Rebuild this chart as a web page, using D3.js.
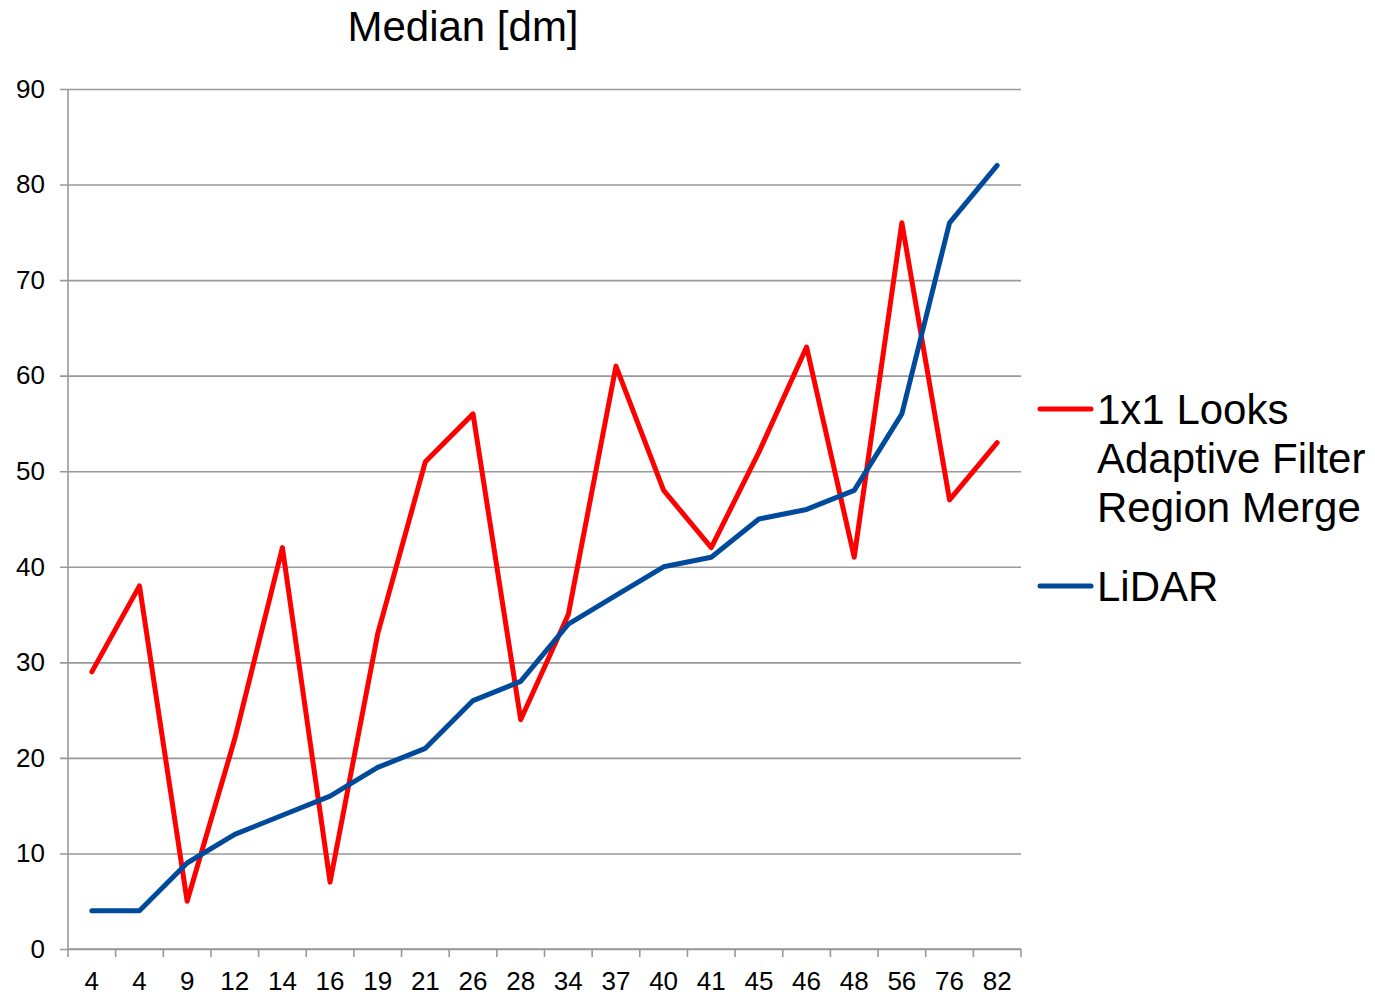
<!DOCTYPE html>
<html>
<head>
<meta charset="utf-8">
<script src="https://cdn.jsdelivr.net/npm/d3@7"></script>
<style>
  body { margin: 0; background: #fff; }
  text { font-family: "Liberation Sans", Arial, sans-serif; fill: #000; }
</style>
</head>
<body>
<div id="chart"></div>
<script>
// category labels on the x axis
const categories = [ "4", "4", "9", "12", "14", "16", "19", "21", "26", "28", "34", "37", "40", "41", "45", "46", "48", "56", "76", "82" ];
// series values
const adaptiveValues = [ 29, 38, 5, 22, 42, 7, 33, 51, 56, 24, 35, 61, 48, 42, 52, 63, 41, 76, 47, 53 ];
const lidarValues = [ 4, 4, 9, 12, 14, 16, 19, 21, 26, 28, 34, 37, 40, 41, 45, 46, 48, 56, 76, 82 ];
const yTicks = [ 0, 10, 20, 30, 40, 50, 60, 70, 80, 90 ];
const seriesNames = [ [ "1x1 Looks", "Adaptive Filter", "Region Merge" ], [ "LiDAR" ] ];
const seriesColors = [ "#ff0000", "#004a9c" ];

const svgWidth = 1375, svgHeight = 994;
const margin = { top: 89, left: 68, right: 354, bottom: 45 };
const width = svgWidth - margin.left - margin.right;
const height = svgHeight - margin.top - margin.bottom;

const svg = d3.select( "#chart" ).append( "svg" )
  .attr( "width", svgWidth )
  .attr( "height", svgHeight );

svg.append( "text" ) // title
  .attr( "x", 463 )
  .attr( "y", 41 )
  .attr( "text-anchor", "middle" )
  .style( "font-size", "42px" )
  .text( "Median [dm]" );

const g = svg.append( "g" )
  .attr( "transform", `translate(${margin.left}, ${margin.top})` );

const idx = categories.map( ( d, i ) => i );
const xScale = d3.scaleBand().domain( idx ).range( [ 0, width ] );
const yScale = d3.scaleLinear().domain( [ 0, 90 ] ).range( [ height, 0 ] );

// horizontal grid + left axis
const leftAxis = g.append( "g" )
  .call( d3.axisLeft( yScale ).tickValues( yTicks ).tickSize( -width ).tickPadding( 23 ) );
leftAxis.select( ".domain" ).remove();
leftAxis.selectAll( "line" )
  .attr( "x1", -8 )
  .attr( "stroke", "#999" )
  .attr( "stroke-width", 1.6 );
leftAxis.selectAll( "text" ).style( "font-size", "26px" );

g.append( "line" ) // y axis line
  .attr( "x1", 0 ).attr( "x2", 0 )
  .attr( "y1", 0 ).attr( "y2", height )
  .attr( "stroke", "#999" )
  .attr( "stroke-width", 1.6 );

// bottom axis: ticks on band edges, labels centered
const bottom = g.append( "g" ).attr( "transform", `translate(0, ${height})` );
bottom.append( "line" )
  .attr( "x1", 0 ).attr( "x2", width )
  .attr( "stroke", "#999" ).attr( "stroke-width", 1.6 );
bottom.selectAll( ".tk" )
  .data( idx.concat( [ categories.length ] ) )
  .enter().append( "line" )
  .attr( "x1", d => d < categories.length ? xScale( d ) : width )
  .attr( "x2", d => d < categories.length ? xScale( d ) : width )
  .attr( "y1", 0 ).attr( "y2", 8 )
  .attr( "stroke", "#999" ).attr( "stroke-width", 1.6 );
bottom.selectAll( ".lbl" )
  .data( categories )
  .enter().append( "text" )
  .attr( "x", ( d, i ) => xScale( i ) + xScale.bandwidth() / 2 )
  .attr( "y", 41 )
  .attr( "text-anchor", "middle" )
  .style( "font-size", "26px" )
  .text( d => d );

const line = d3.line()
  .x( ( d, i ) => xScale( i ) + xScale.bandwidth() / 2 )
  .y( d => yScale( d ) );

[ adaptiveValues, lidarValues ].forEach( ( vals, k ) => {
  g.append( "path" )
    .datum( vals )
    .attr( "fill", "none" )
    .attr( "stroke", seriesColors[ k ] )
    .attr( "stroke-width", 5 )
    .attr( "stroke-linejoin", "round" )
    .attr( "stroke-linecap", "round" )
    .attr( "d", line );
} );

// legend
const legendY = [ 409, 586 ];
seriesNames.forEach( ( lines, k ) => {
  const lg = svg.append( "g" ).attr( "transform", `translate(1040, ${legendY[ k ]})` );
  lg.append( "line" )
    .attr( "x1", 0 ).attr( "x2", 51 )
    .attr( "stroke", seriesColors[ k ] )
    .attr( "stroke-width", 5 )
    .attr( "stroke-linecap", "round" );
  lines.forEach( ( t, j ) => {
    lg.append( "text" )
      .attr( "x", 57 )
      .attr( "y", 15 + j * 49 )
      .style( "font-size", "42px" )
      .text( t );
  } );
} );
</script>
</body>
</html>
